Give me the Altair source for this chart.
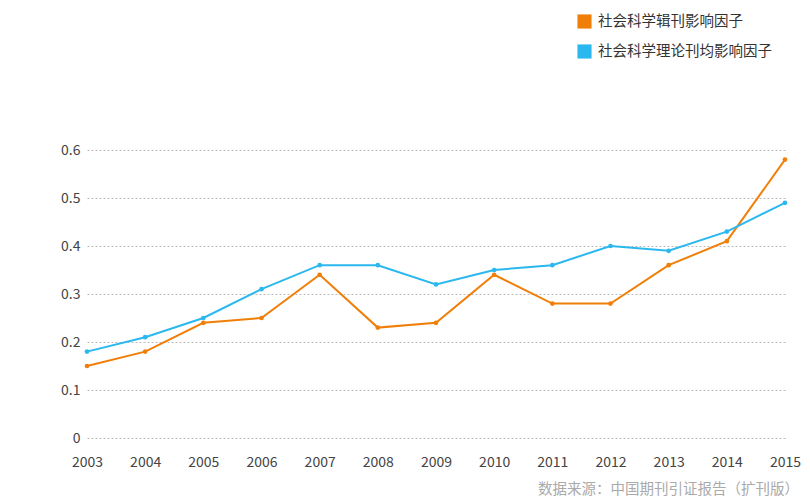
import altair as alt
import pandas as pd

years = list(range(2003, 2016))
series_a = "社会科学辑刊影响因子"
series_b = "社会科学理论刊均影响因子"
values_a = [0.15, 0.18, 0.24, 0.25, 0.34, 0.23, 0.24, 0.34, 0.28, 0.28, 0.36, 0.41, 0.58]
values_b = [0.18, 0.21, 0.25, 0.31, 0.36, 0.36, 0.32, 0.35, 0.36, 0.40, 0.39, 0.43, 0.49]
y_ticks = [0, 0.1, 0.2, 0.3, 0.4, 0.5, 0.6]
source_text = "数据来源：中国期刊引证报告（扩刊版）"

df = pd.DataFrame(
    [{"year": y, "series": series_a, "value": v} for y, v in zip(years, values_a)]
    + [{"year": y, "series": series_b, "value": v} for y, v in zip(years, values_b)]
)

FONT = "Noto Sans CJK SC"
domain = [series_a, series_b]
palette = ["#F07F09", "#2BB8EE"]

color = alt.Color(
    "series:N",
    scale=alt.Scale(domain=domain, range=palette),
    legend=alt.Legend(
        title=None,
        orient="none",
        legendX=490,
        legendY=-136,
        symbolType="square",
        symbolSize=200,
        symbolStrokeWidth=0,
        symbolOpacity=1,
        labelFont=FONT,
        labelFontSize=14.5,
        labelColor="#333333",
        labelLimit=400,
        rowPadding=14,
        labelOffset=6,
    ),
)

x = alt.X(
    "year:Q",
    scale=alt.Scale(domain=[2003, 2015], nice=False, zero=False),
    axis=alt.Axis(
        title=None,
        values=years,
        format="d",
        grid=False,
        domain=False,
        ticks=False,
        labelPadding=17,
        labelFont=FONT,
        labelFontSize=14,
        labelColor="#444444",
        labelFlush=False,
    ),
)
y = alt.Y(
    "value:Q",
    scale=alt.Scale(domain=[0, 0.6], nice=False),
    axis=alt.Axis(
        title=None,
        values=y_ticks,
        format="~g",
        domain=False,
        ticks=False,
        labelPadding=7,
        labelFont=FONT,
        labelFontSize=14,
        labelColor="#444444",
        gridColor="#BBBBBB",
        gridDash=[2, 2],
        gridWidth=1,
    ),
)

lines = alt.Chart(df).mark_line(strokeWidth=2).encode(
    x=x, y=y, color=color, order=alt.Order("year:Q"), detail="series:N"
)
points = alt.Chart(df).mark_point(filled=True, size=22, opacity=1).encode(
    x=x, y=y, color=alt.Color("series:N", scale=alt.Scale(domain=domain, range=palette), legend=None)
)

src = alt.Chart(pd.DataFrame({"t": [source_text]})).mark_text(
    align="right", baseline="middle", font=FONT, fontSize=14.5, color="#AAAAAA"
).encode(x=alt.value(712), y=alt.value(340), text="t:N")

chart = (
    alt.layer(lines, points, src)
    .properties(
        width=698,
        height=288,
        autosize=alt.AutoSizeParams(type="none"),
        padding={"left": 79, "top": 142, "right": 17, "bottom": 62},
    )
    .configure_view(stroke=None)
)

chart.save("out.html", embed_options={"renderer": "svg", "actions": False})
